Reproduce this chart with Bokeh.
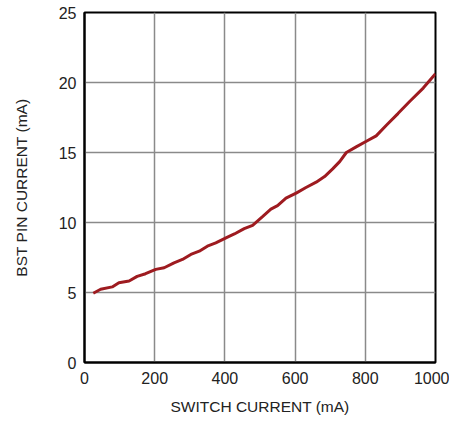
from bokeh.plotting import figure
from bokeh.embed import file_html
from bokeh.resources import INLINE
from bokeh.models import Range1d, FixedTicker

switch_current = [25, 46, 79, 98, 127, 150, 174, 203, 227, 255, 279, 303, 327, 350, 374, 403, 427, 455, 479,
                  508, 531, 550, 574, 603, 631, 660, 684, 707, 727, 746, 774, 803, 831, 860, 893, 927, 965, 1000]
bst_current = [4.95, 5.23, 5.4, 5.7, 5.82, 6.15, 6.34, 6.65, 6.77, 7.12, 7.36, 7.72, 7.95, 8.31, 8.54, 8.9, 9.18,
               9.56, 9.8, 10.44, 10.95, 11.2, 11.74, 12.1, 12.5, 12.88, 13.28, 13.83, 14.35, 15.0, 15.4, 15.8,
               16.19, 16.95, 17.78, 18.66, 19.6, 20.62]
x_ticks = [0, 200, 400, 600, 800, 1000]
y_ticks = [0, 5, 10, 15, 20, 25]

FONT = "Liberation Sans"

p = figure(width=449, height=421, output_backend="svg", toolbar_location=None,
           x_range=Range1d(0, 1000), y_range=Range1d(0, 25),
           min_border_left=84, min_border_right=14, min_border_top=12, min_border_bottom=59)

p.line(switch_current, bst_current, line_color="#9e1b20", line_width=3)

for ax in (p.xaxis[0], p.yaxis[0]):
    ax.major_tick_in = 0
    ax.major_tick_out = 0
    ax.minor_tick_in = 0
    ax.minor_tick_out = 0
    ax.axis_line_color = "black"
    ax.axis_line_width = 2
    ax.major_label_text_font = FONT
    ax.major_label_text_font_size = "16px"
    ax.major_label_text_color = "#222222"
    ax.axis_label_text_font = FONT
    ax.axis_label_text_font_size = "15.5px"
    ax.axis_label_text_font_style = "normal"
    ax.axis_label_text_color = "#222222"

p.xaxis.ticker = FixedTicker(ticks=x_ticks)
p.yaxis.ticker = FixedTicker(ticks=y_ticks)
p.xaxis.axis_label = "SWITCH CURRENT (mA)"
p.yaxis.axis_label = "BST PIN CURRENT (mA)"
p.xaxis.major_label_standoff = 9
p.yaxis.major_label_standoff = 8
p.xaxis.axis_label_standoff = 11
p.yaxis.axis_label_standoff = 26

p.xgrid.grid_line_color = "#8a8a8a"
p.ygrid.grid_line_color = "#8a8a8a"
p.xgrid.grid_line_width = 1.5
p.ygrid.grid_line_width = 1.5

p.outline_line_color = "black"
p.outline_line_width = 2
p.outline_line_alpha = 1
p.background_fill_color = "white"
p.border_fill_color = "white"

open("out.html", "w").write(file_html(p, INLINE))
